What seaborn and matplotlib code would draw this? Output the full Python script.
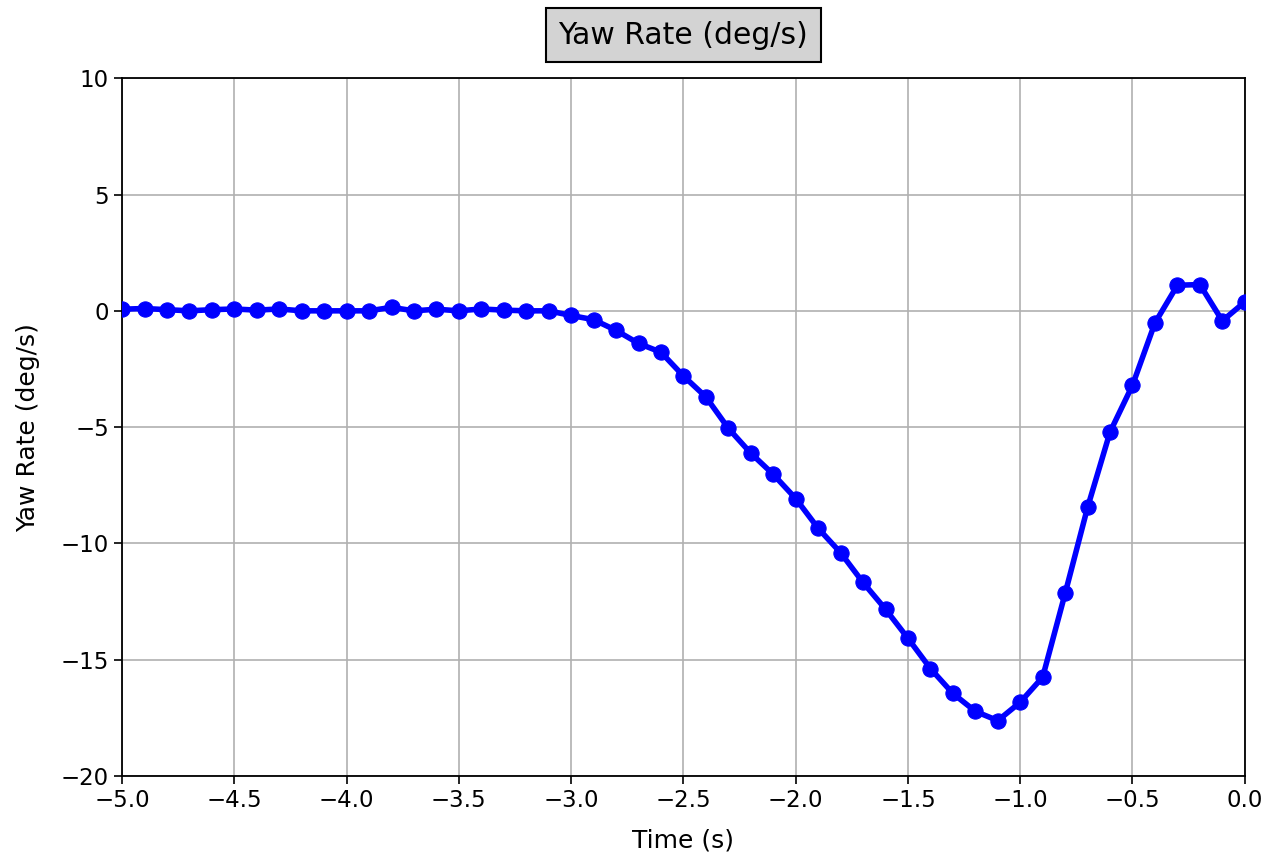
import matplotlib
matplotlib.use("Agg")
import matplotlib.pyplot as plt
import seaborn as sns
import numpy as np
import pandas as pd

time_s = [round(-5.0 + 0.1 * i, 1) for i in range(51)]
yaw_rate = [
    0.07, 0.10, 0.05, 0.00, 0.05, 0.08, 0.03, 0.08, 0.00, 0.00,
    0.00, 0.00, 0.15, 0.00, 0.07, 0.00, 0.08, 0.03, 0.00, 0.00,
    -0.20, -0.38, -0.84, -1.40, -1.78, -2.80, -3.70, -5.05, -6.12, -7.03,
    -8.07, -9.35, -10.40, -11.68, -12.83, -14.08, -15.38, -16.45, -17.22, -17.62,
    -16.83, -15.75, -12.15, -8.45, -5.21, -3.20, -0.52, 1.10, 1.13, -0.43,
    0.38,
]
title_text = "Yaw Rate (deg/s)"
x_label = "Time (s)"
y_label = "Yaw Rate (deg/s)"

df = pd.DataFrame({"t": time_s, "yaw": yaw_rate})

plt.rcParams["font.family"] = ["DejaVu Sans"]
fig = plt.figure(figsize=(12.78, 8.6), dpi=100)
ax = fig.add_axes([0.0955, 0.0977, 0.8785, 0.8113])

sns.lineplot(data=df, x="t", y="yaw", ax=ax, color="blue", linewidth=4,
             marker="o", markersize=11, markeredgecolor="blue", zorder=3)

ax.set_xlim(-5.0, 0.0)
ax.set_ylim(-20, 10)
xt = np.arange(-5.0, 0.01, 0.5)
ax.set_xticks(xt)
ax.set_yticks(np.arange(-20, 10.1, 5))
ax.set_xticklabels([f"{v:.1f}".replace("-", "\u2212") for v in xt])
ax.grid(True, color="#b0b0b0", linewidth=1.2)
ax.tick_params(labelsize=16.5, length=6, width=1.2)
for s in ax.spines.values():
    s.set_linewidth(1.3)
ax.set_xlabel(x_label, fontsize=18, labelpad=12)
ax.set_ylabel(y_label, fontsize=18, labelpad=15)
ax.set_title(title_text, fontsize=21.5, pad=25,
             bbox=dict(facecolor="lightgray", edgecolor="black", boxstyle="square,pad=0.43", linewidth=1.5))

fig.savefig("out.png", dpi=100)
